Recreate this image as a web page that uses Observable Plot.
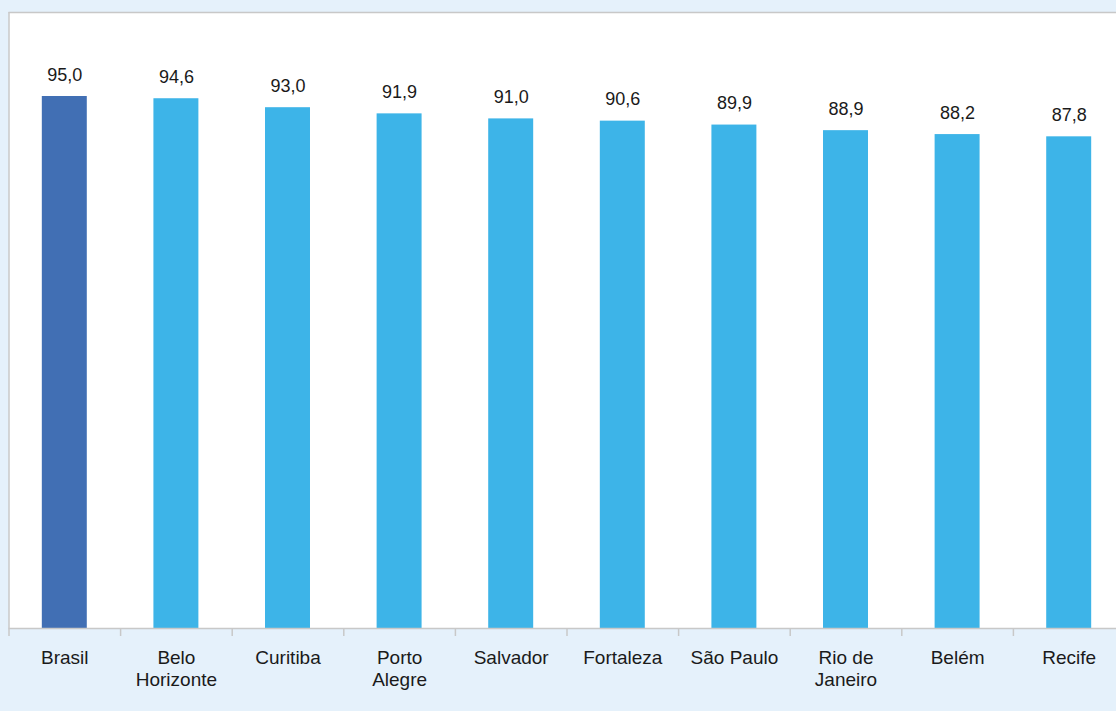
<!DOCTYPE html>
<html>
<head>
<meta charset="utf-8">
<script src="https://cdn.jsdelivr.net/npm/d3@7"></script>
<script src="https://cdn.jsdelivr.net/npm/@observablehq/plot@0.6"></script>
<style>
  html, body { margin: 0; padding: 0; background: #e5f1fb; overflow: hidden; }
  #chart svg { display: block; }
</style>
</head>
<body>
<div id="chart"></div>
<script>
const cities = ["Brasil", "Belo Horizonte", "Curitiba", "Porto Alegre", "Salvador", "Fortaleza", "São Paulo", "Rio de Janeiro", "Belém", "Recife"];
const tickLabels = ["Brasil", "Belo\nHorizonte", "Curitiba", "Porto\nAlegre", "Salvador", "Fortaleza", "São Paulo", "Rio de\nJaneiro", "Belém", "Recife"];
const values = [95.0, 94.6, 93.0, 91.9, 91.0, 90.6, 89.9, 88.9, 88.2, 87.8];
const highlight = "Brasil";

const data = cities.map((c, i) => ({city: c, value: values[i]}));
const labelOf = new Map(cities.map((c, i) => [c, tickLabels[i]]));

const W = 1116, H = 711;
const mL = 8.5, mR = -8.5, mT = 12, mB = 83;
const step = (W - mL - mR) / cities.length;
const fmt = v => v.toFixed(1).replace(".", ",");

const chart = Plot.plot({
  width: W,
  height: H,
  marginLeft: mL,
  marginRight: mR,
  marginTop: mT,
  marginBottom: mB,
  style: {background: "#e5f1fb", fontFamily: "'Liberation Sans', Arial, Helvetica, sans-serif", fontSize: "18px", color: "#1a1a1a"},
  x: {domain: cities, paddingInner: 0.597, paddingOuter: 0.2985, align: 0.5, round: false},
  y: {domain: [0, 110], axis: null},
  marks: [
    Plot.frame({fill: "white", stroke: null}),
    Plot.ruleX([0], {x: () => cities[0], dx: -step / 2, y1: 0, y2: 110, stroke: "#c8c8c8", strokeWidth: 1.5}),
    Plot.ruleY([110], {stroke: "#c8c8c8", strokeWidth: 1.5}),
    Plot.barY(data, {x: "city", y: "value", fill: d => d.city === highlight ? "#416fb4" : "#3db4e8"}),
    Plot.ruleY([0], {stroke: "#c8c8c8", strokeWidth: 1.5}),
    Plot.axisX({tickSize: 8, tickFormat: () => "", stroke: "#c8c8c8", strokeWidth: 1.5, dx: -step / 2, label: null}),
    Plot.axisX({tickSize: 0, tickPadding: 20, tickFormat: d => labelOf.get(d), lineHeight: 1.15, fill: "#1a1a1a", fontSize: 19, label: null}),
    Plot.text(data, {x: "city", y: "value", text: d => fmt(d.value), dy: -16, lineAnchor: "bottom", fill: "#1a1a1a", fontSize: 18})
  ]
});
document.getElementById("chart").append(chart);
</script>
</body>
</html>
